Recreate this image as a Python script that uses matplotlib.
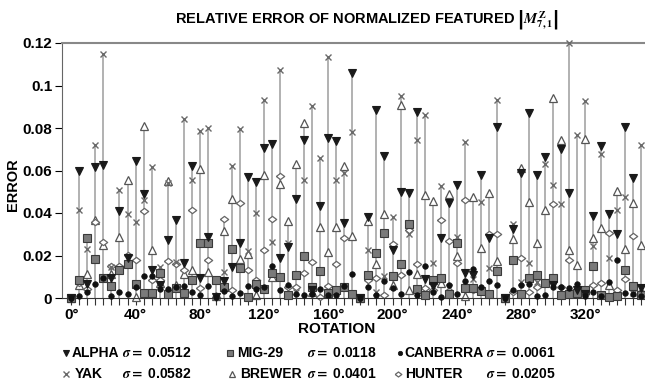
import numpy as np
import matplotlib
matplotlib.use("Agg")
import matplotlib.pyplot as plt
from matplotlib.lines import Line2D

plt.rcParams['font.family'] = ['Liberation Sans Narrow', 'Liberation Sans', 'DejaVu Sans']
plt.rcParams['font.weight'] = 'bold'
plt.rcParams['mathtext.fontset'] = 'stix'

# rotation angles (degrees), one stem every 5 degrees
rotation = np.arange(0, 360, 5)

alpha = [0, .060, .0067, .0616, .0624, .0092, .0408, .0190, .0643, .0488,
         .0130, .0060, .0271, .0365, .0165, .0620, .0095, .0288, .0006, .0080,
         .0148, .0261, .0570, .0546, .0708, .0723, .0186, .0242, .0464, .0745,
         .0040, .0433, .0755, .0738, .0355, .1059, 0, .0382, .0887, .0668,
         .0225, .0499, .0494, .0875, .0090, .0058, .0282, .0446, .0534, .0120,
         .0110, .0581, .0282, .0803, 0, .0324, .0590, .0872, .0580, .0665,
         .0060, .0702, .0493, .0040, .0021, .0384, .0716, .0397, .0303, .0803,
         .0564, .0045]
mig29 = [0, .0085, .0284, .0182, .0094, .0058, .0130, .0162, .0064, .0025,
         .0025, .0120, .0020, .0045, .0022, .0085, .0261, .0259, .0083, .0050,
         .0232, .0142, .0006, .0066, .0044, .0118, .0101, .0014, .0106, .0200,
         .0050, .0125, .0022, .0039, .0050, .0020, 0, .0106, .0213, .0304,
         .0105, .0162, .0347, .0044, .0013, .0084, .0096, .0020, .0260, .0045,
         .0045, .0034, .0017, .0128, 0, .0180, .0017, .0096, .0107, .0070,
         .0096, .0013, .0017, .0022, .0036, .0150, .0014, .0006, .0008, .0130,
         .0056, .0015]
canberra = [0, .0010, .0028, .0067, .0092, .0008, .0028, .0017, .0050, .0105,
            .0105, .0042, .0044, .0050, .0055, .0028, .0012, .0055, .0005, .0032,
            .0010, .0024, .0056, .0044, .0050, .0152, .0040, .0060, .0021, .0013,
            .0020, .0042, .0015, .0013, .0056, .0115, 0, .0050, .0013, .0082,
            .0045, .0020, .0122, .0013, .0150, .0030, .0006, .0060, .0020, .0078,
            .0136, .0054, .0082, .0060, 0, .0037, .0060, .0068, .0008, .0013,
            .0052, .0053, .0045, .0065, .0010, .0030, .0010, .0077, .0179, .0025,
            .0020, .0010]
yak = [0, .0415, .0229, .0722, .1147, .0148, .0507, .0394, .0360, .0463,
       .0616, .0146, .0540, .0170, .0842, .0557, .0785, .0802, .0008, .0123,
       .0620, .0793, .0222, .0401, .0930, .0264, .1074, .0260, .0030, .0556,
       .0904, .0660, .1135, .0555, .0586, .0782, 0, .0228, .0030, .0105,
       .0381, .0949, .0300, .0742, .0860, .0164, .0526, .0050, .0288, .0735,
       .0090, .0451, .0140, .0933, 0, .0350, .0076, .0164, .0075, .0629,
       .0531, .0444, .1198, .0767, .0927, .0247, .0677, .0187, .0416, .0473,
       .0022, .0720]
brewer = [0, .0060, .0115, .0369, .0248, .0115, .0287, .0557, .0005, .0808,
          .0227, .0070, .0550, .0060, .0115, .0133, .0605, .0122, .0010, .0313,
          .0464, .0184, .0205, .0015, .0578, .0098, .0536, .0363, .0629, .0824,
          .0030, .0336, .0217, .0336, .0621, .0292, 0, .0364, .0158, .0397,
          .0060, .0907, .0040, .0114, .0484, .0458, .0070, .0488, .0197, .0010,
          .0477, .0236, .0492, .0175, 0, .0280, .0613, .0452, .0261, .0414,
          .0940, .0745, .0228, .0156, .0750, .0282, .0331, .0060, .0504, .0229,
          .0445, .0249]
hunter = [0, .0070, .0044, .0360, .0262, .0152, .0150, .0201, .0177, .0410,
          .0085, .0085, .0174, .0158, .0133, .0413, .0045, .0178, .0007, .0374,
          .0040, .0448, .0131, .0087, .0225, .0374, .0576, .0053, .0053, .0118,
          .0171, .0006, .0055, .0160, .0283, .0020, 0, .0086, .0095, .0013,
          .0255, .0107, .0320, .0158, .0046, .0040, .0366, .0268, .0165, .0463,
          .0040, .0040, .0300, .0302, 0, .0030, .0186, .0030, .0050, .0065,
          .0444, .0050, .0181, .0030, .0020, .0061, .0072, .0305, .0040, .0090,
          .0292, .0030]

names = ['ALPHA', 'MIG-29', 'CANBERRA', 'YAK', 'BREWER', 'HUNTER']
sigmas = ['0.0512', '0.0118', '0.0061', '0.0582', '0.0401', '0.0205']
series = [alpha, mig29, canberra, yak, brewer, hunter]

diamond = [(-1, 0), (0, 0.75), (1, 0), (0, -0.75), (-1, 0)]
styles = {
    'ALPHA': dict(marker='v', ms=6, mfc='#1a1a1a', mec='#1a1a1a', mew=0.8, zorder=5),
    'MIG-29': dict(marker='s', ms=5.5, mfc='#7a7a7a', mec='#3a3a3a', mew=0.8, zorder=4),
    'CANBERRA': dict(marker='o', ms=4, mfc='#111111', mec='#111111', mew=0.5, zorder=6),
    'YAK': dict(marker='x', ms=5, mfc='none', mec='#6a6a6a', mew=1.0, zorder=3),
    'BREWER': dict(marker='^', ms=6, mfc='white', mec='#555555', mew=0.9, zorder=2),
    'HUNTER': dict(marker=diamond, ms=6, mfc='white', mec='#666666', mew=0.9, zorder=2),
}

fig = plt.figure(figsize=(6.45, 3.88), dpi=100)
ax = fig.add_axes([62 / 645, 90 / 388, 583 / 645, 255 / 388])

tops = np.max(np.array(series), axis=0)
ax.vlines(rotation, 0, tops, color='#ababab', lw=1.3, zorder=1)

for name, vals in zip(names, series):
    ax.plot(rotation, vals, ls='none', clip_on=False, **styles[name])

ax.set_xlim(-5.8, 357.2)
ax.set_ylim(0, 0.12)
ax.set_yticks([0, 0.02, 0.04, 0.06, 0.08, 0.1, 0.12])
ax.set_yticklabels(['0', '0.02', '0.04', '0.06', '0.08', '0.1', '0.12'], fontsize=11, fontweight='bold')
ax.set_xticks(np.arange(0, 360, 40))
ax.set_xticklabels([f'{a}°' for a in range(0, 360, 40)], fontsize=11, fontweight='bold')
ax.set_xticks(rotation, minor=True)
ax.tick_params(axis='x', which='both', direction='out', length=5, width=0.8, color='#333333', pad=2)
ax.tick_params(axis='y', direction='out', length=5, width=0.8, pad=2)

ax.spines['right'].set_visible(False)
ax.spines['top'].set_color('#888888')
ax.spines['top'].set_linewidth(1.5)
ax.spines['left'].set_color('#666666')
ax.spines['bottom'].set_color('#333333')

fig.text(13 / 645, 1 - 185 / 388, 'ERROR', rotation=90, ha='center', va='center',
         fontsize=10.5, fontweight='bold')
fig.text(337 / 645, 1 - 329 / 388, 'ROTATION', ha='center', va='center', fontsize=11, fontweight='bold')

fig.text(367 / 645, 1 - 20 / 388,
         r'RELATIVE ERROR OF NORMALIZED FEATURED $\left|M^{\mathbf{Z}}_{\mathbf{7,1}}\right|$',
         ha='center', va='center', fontsize=10.5, fontweight='bold')

# legend: two rows of three entries, drawn by hand to keep the sigma columns aligned
marker_x = [66, 230, 400, 66, 232, 398]
name_x = [72, 237, 404, 75, 240, 405]
sigma_x = [122, 307, 486, 122, 307, 486]
row_y = [353, 353, 353, 374, 374, 374]
for i, name in enumerate(names):
    st = dict(styles[name])
    st.pop('zorder')
    st['ms'] = st['ms'] * 0.8
    fig.add_artist(Line2D([marker_x[i] / 645], [1 - row_y[i] / 388], ls='none',
                          transform=fig.transFigure, **st))
    fig.text(name_x[i] / 645, 1 - row_y[i] / 388, name, ha='left', va='center',
             fontsize=10, fontweight='bold')
    fig.text(sigma_x[i] / 645, 1 - row_y[i] / 388, r'$\sigma =$ ' + sigmas[i],
             ha='left', va='center', fontsize=10, fontweight='bold')

plt.savefig('out.png', dpi=100)
